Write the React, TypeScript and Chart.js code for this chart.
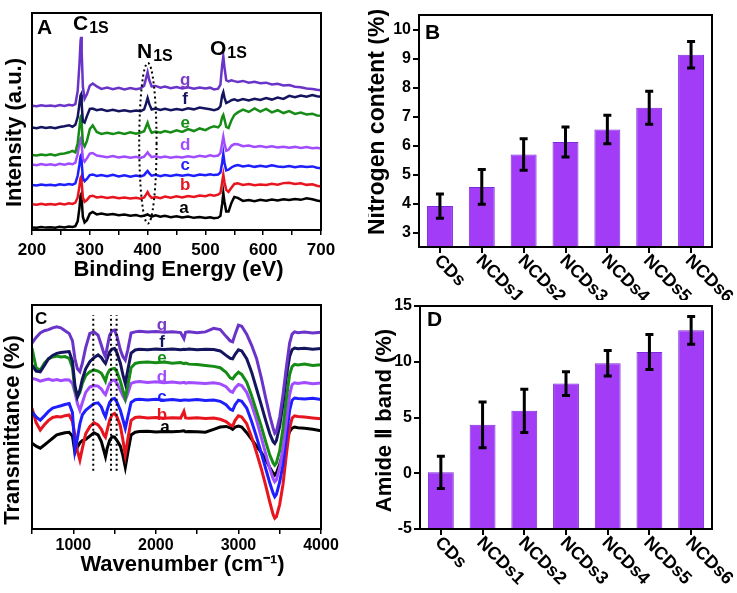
import React, { useEffect, useRef } from 'react';
import { Chart, registerables } from 'chart.js';
Chart.register(...registerables);

const FONT = '"Liberation Sans", Arial, Helvetica, sans-serif';

// ---------- Panel A : XPS survey spectra ----------
const xpsEnergy = [200,208,216,224,232,240,248,256,264,270,275,279,282,284,285,286,288,291,295,300,305,312,320,330,340,350,360,370,380,388,394,397,400,403,407,414,422,430,440,450,460,470,480,490,500,508,515,522,526,529,531,533,536,540,545,550,556,565,575,585,595,605,615,625,635,645,655,665,675,685,693,700];
const xpsA = [1.2,1.0,1.4,1.1,1.3,1.0,1.5,1.2,1.6,1.4,1.8,4.0,10.0,16.0,16.5,14.0,6.0,3.5,4.5,7.5,8.3,7.2,7.6,7.0,7.4,6.8,7.1,6.6,6.9,6.3,6.6,6.9,7.2,6.7,6.2,6.8,6.1,6.5,5.9,6.3,5.8,6.2,5.6,6.0,5.5,5.9,5.4,5.7,6.5,12.0,17.0,13.0,8.5,8.5,12.5,15.2,14.8,13.4,13.8,13.3,13.9,13.5,14.0,13.6,14.2,13.8,14.3,13.9,14.6,14.2,13.6,13.2];
const xpsB = [11.9,11.6,12.1,11.7,12.0,11.6,12.2,11.8,12.3,12.0,12.6,15.0,20.0,24.0,24.5,22.0,15.0,13.0,13.8,15.5,15.8,15.0,15.3,14.8,15.2,14.6,15.0,14.5,14.9,14.4,15.0,16.2,17.5,16.0,14.8,15.2,14.7,15.4,14.9,15.5,15.0,15.7,15.2,15.9,15.6,16.2,15.8,16.3,17.0,22.0,25.5,22.0,18.5,17.6,19.5,21.2,21.5,20.8,21.2,20.6,21.0,20.7,21.3,20.9,21.6,21.8,21.2,21.5,20.8,21.1,20.4,20.0];
const xpsC = [20.8,20.5,21.0,20.6,20.9,20.5,21.1,20.7,21.2,20.9,21.5,25.0,30.0,34.0,34.5,31.0,24.0,22.5,23.5,25.3,25.6,24.9,25.3,24.8,25.4,24.7,25.2,24.6,25.1,24.7,25.3,26.3,27.2,26.1,25.0,25.4,24.8,25.3,24.9,25.5,25.0,25.4,24.9,25.6,25.2,25.7,25.3,25.6,26.5,31.0,35.0,31.0,27.5,27.8,28.8,29.5,29.9,29.3,29.7,29.1,29.6,29.2,29.8,29.3,29.0,29.5,28.9,29.4,29.0,29.3,28.7,28.5];
const xpsD = [30.2,29.9,30.4,30.0,30.3,29.9,30.5,30.1,30.6,30.3,31.0,35.0,40.0,42.0,42.5,39.0,33.0,31.5,33.0,35.2,35.5,34.3,34.0,33.5,34.1,33.4,33.9,33.3,33.7,33.2,33.8,34.8,35.8,34.7,33.6,34.0,33.4,33.9,33.3,33.8,33.4,34.0,33.5,34.2,33.8,34.4,34.0,34.3,35.5,40.0,43.0,40.0,36.5,37.0,38.8,39.6,39.5,38.6,38.9,38.3,38.7,38.1,38.6,38.0,38.4,37.9,38.3,37.8,38.2,37.7,37.9,37.5];
const xpsE = [34.6,34.3,34.8,34.5,34.9,34.4,35.0,35.3,35.8,36.5,35.8,40.0,47.0,52.0,52.5,49.0,40.0,38.5,41.0,46.5,48.2,45.2,44.3,44.8,44.2,44.9,44.3,45.0,44.4,44.9,45.5,47.5,49.5,47.0,44.8,45.4,44.8,45.6,45.0,45.9,45.2,46.5,45.6,46.8,46.0,47.2,47.8,47.3,48.5,52.0,53.0,51.0,47.5,47.0,50.5,53.0,54.2,55.5,54.4,56.0,54.6,55.8,54.2,55.2,53.9,54.8,53.5,54.1,53.2,53.6,52.8,52.6];
const xpsF = [47.2,46.9,47.4,47.0,47.3,46.9,47.5,47.8,48.3,47.6,48.5,52.0,58.0,62.0,62.5,58.0,50.0,49.5,52.5,55.8,56.0,55.2,55.6,54.9,55.4,54.7,55.2,54.6,55.1,54.8,55.6,58.0,60.8,58.0,55.5,56.0,55.3,55.9,55.2,55.8,55.3,56.1,55.6,56.4,56.0,55.6,55.2,55.8,57.0,62.0,63.5,61.0,58.5,59.0,59.8,60.2,59.6,60.3,59.7,60.5,59.9,60.8,60.1,61.0,60.4,61.8,61.2,62.0,61.4,62.2,61.6,61.4];
const xpsG = [57.3,57.0,57.5,57.1,57.4,57.0,57.6,57.2,57.7,57.4,58.0,64.0,76.0,87.0,89.0,82.0,66.0,60.5,62.5,66.5,67.5,66.2,65.0,65.6,64.9,65.5,64.8,65.4,64.9,65.3,66.5,69.5,72.7,69.0,66.2,66.4,65.6,66.1,65.3,65.9,65.2,65.8,65.1,65.7,65.2,65.6,64.8,65.1,67.0,76.0,80.0,75.0,69.0,68.5,69.0,68.6,68.2,68.7,67.9,68.3,67.6,67.9,67.1,67.4,66.6,66.8,66.0,65.8,65.2,65.0,64.6,64.4];
const xpsTickValues = [200,250,300,350,400,450,500,550,600,650,700];

// ---------- Panel C : FTIR spectra ----------
const ftirWavenumber = [500,550,600,650,700,750,800,850,900,950,990,1020,1050,1080,1110,1150,1200,1250,1300,1340,1370,1390,1410,1440,1470,1500,1530,1570,1600,1630,1660,1700,1750,1800,1900,2000,2100,2200,2300,2340,2360,2400,2500,2600,2700,2780,2850,2900,2930,2960,3000,3040,3100,3160,3220,3280,3330,3380,3420,3440,3460,3500,3540,3580,3620,3650,3680,3720,3800,3900,4000];
const ftirA = [38.3,37.0,36.1,37.5,39.0,40.5,42.0,42.5,43.0,43.2,41.5,34.0,36.5,38.5,39.5,40.0,41.5,43.0,42.0,39.0,35.0,32.3,36.0,39.5,41.2,41.0,39.5,37.0,33.0,27.5,34.0,42.0,43.2,43.5,43.6,43.3,43.5,43.4,43.6,43.8,43.4,43.5,43.4,43.2,44.5,45.5,45.8,45.2,44.5,45.5,46.0,45.5,43.0,40.0,37.0,34.0,31.0,27.5,25.0,24.1,25.0,29.0,34.0,39.5,43.5,45.0,45.5,45.2,45.0,44.5,43.8];
const ftirB = [54.0,47.5,44.2,46.5,48.5,49.8,50.2,50.0,50.6,50.9,48.0,42.0,35.0,30.8,36.0,42.5,45.7,47.5,46.5,44.5,42.0,41.0,44.0,48.5,51.0,51.6,50.0,46.0,40.0,33.0,40.0,48.5,49.8,50.0,49.6,49.8,49.4,49.7,49.5,52.5,49.6,49.4,49.7,49.3,49.5,49.0,48.0,46.5,46.0,48.5,50.5,50.0,47.0,41.0,34.0,26.5,19.5,12.0,6.5,4.8,5.5,11.0,20.0,33.0,45.0,49.5,50.5,50.2,50.0,49.6,49.2];
const ftirC = [52.4,50.0,48.6,50.5,52.5,54.0,54.5,55.0,55.6,56.0,52.0,35.0,40.5,47.0,51.0,53.0,54.5,56.0,56.3,54.5,51.5,50.0,53.0,56.5,58.0,58.3,56.5,53.0,49.0,44.9,50.0,56.5,57.7,57.9,57.6,57.9,57.5,57.8,57.4,57.6,57.6,57.5,57.8,57.4,57.6,57.0,55.5,53.5,53.0,55.5,57.5,57.0,54.0,48.0,41.0,33.5,27.0,20.5,16.0,14.4,15.5,21.0,29.0,41.0,53.0,57.5,58.5,58.3,58.0,58.4,57.8];
const ftirD = [67.2,66.8,66.0,66.5,66.9,66.3,66.7,66.2,66.6,66.5,65.0,61.0,56.0,53.0,56.5,61.0,63.4,64.0,63.8,62.5,60.8,60.0,62.0,65.0,66.3,66.5,65.0,62.0,59.5,57.5,60.5,65.0,65.6,65.8,65.4,65.7,65.3,65.6,65.2,65.5,65.1,65.4,65.2,65.0,65.3,64.8,63.5,61.5,61.0,63.0,64.5,64.0,61.0,55.5,48.5,40.5,33.5,27.0,22.5,21.1,22.0,27.5,36.0,48.0,60.0,64.5,65.3,65.0,65.4,64.9,65.2];
const ftirE = [80.7,72.0,71.0,74.0,76.0,76.8,77.2,76.8,77.0,76.2,72.0,62.0,59.0,61.0,65.0,68.5,70.2,71.0,70.5,69.5,67.5,66.0,69.0,71.0,71.5,71.7,70.0,66.0,62.0,58.3,64.0,72.0,73.9,74.3,74.6,74.2,74.5,74.0,74.3,73.8,74.1,73.6,73.4,73.0,72.6,72.0,70.0,67.5,67.0,68.5,70.0,69.0,65.5,59.5,52.5,45.5,39.0,33.0,29.5,28.5,29.5,35.0,45.0,58.0,69.0,72.5,73.5,73.2,73.6,73.0,73.3];
const ftirF = [73.2,70.5,70.2,73.0,76.0,77.5,78.4,78.8,79.0,79.2,75.0,64.0,59.0,62.0,67.0,71.5,74.7,76.5,77.7,76.5,74.8,73.9,76.0,79.0,80.3,80.6,78.5,74.0,69.0,64.9,71.0,78.5,79.9,80.2,80.0,80.3,80.1,80.4,80.0,80.2,80.1,80.3,80.0,80.2,80.1,79.5,77.5,76.2,76.0,78.0,80.0,79.5,76.0,70.0,62.5,55.0,48.5,42.5,39.0,38.2,39.5,46.0,56.0,68.0,77.0,80.0,80.8,80.5,80.7,80.3,80.6];
const ftirG = [83.0,85.5,87.5,88.5,89.0,89.8,90.3,89.8,88.5,87.3,84.0,76.0,71.5,70.2,74.0,81.0,87.3,88.0,86.5,82.0,78.5,76.9,81.0,86.5,88.5,88.8,86.0,80.0,77.0,75.4,80.0,87.5,88.0,88.3,87.9,88.2,87.8,88.1,87.7,85.0,87.8,88.0,87.6,88.0,89.6,89.0,86.0,84.0,83.6,87.0,91.0,90.5,87.0,82.0,76.0,67.0,58.5,50.5,45.0,42.7,43.5,50.0,60.0,72.0,83.0,87.0,88.0,87.6,87.9,87.5,87.8];
const ftirTickValues = [500,1000,1500,2000,2500,3000,3500,4000];
const ftirMarkedBands = [1242, 1457, 1525];
const ftirMarkedRange = [26, 95.5];

// ---------- Panels B & D : bar charts ----------
const sampleNames = ['CDs', 'NCDs1', 'NCDs2', 'NCDs3', 'NCDs4', 'NCDs5', 'NCDs6'];
const nitrogenContent = [3.91, 4.57, 5.69, 6.12, 6.55, 7.30, 9.13];
const nitrogenError = [0.42, 0.60, 0.54, 0.52, 0.49, 0.57, 0.46];
const nitrogenTicks = [3, 4, 5, 6, 7, 8, 9, 10];
const amideBand = [0.08, 4.34, 5.60, 8.04, 9.87, 10.88, 12.82];
const amideError = [1.45, 2.05, 1.94, 1.06, 1.15, 1.57, 1.24];
const amideTicks = [-5, 0, 5, 10, 15];

// ---------- styles ----------
const curveLetters = ['a', 'b', 'c', 'd', 'e', 'f', 'g'];
const curveColors = ['#000000', '#e8141e', '#1e1eff', '#a24cff', '#168c16', '#15155f', '#6a34c8'];
const labelColors = ['#000000', '#e8141e', '#1e1eff', '#a24cff', '#168c16', '#15155f', '#7a3cc4'];
const barFill = '#a23cf6';
const barEdge = '#7b2bdc';

const xpsSeries = [xpsA, xpsB, xpsC, xpsD, xpsE, xpsF, xpsG];
const ftirSeries = [ftirA, ftirB, ftirC, ftirD, ftirE, ftirF, ftirG];

const bold = (size: number) => `bold ${size}px ${FONT}`;

// frame, panel letter and axis titles
const framePlugin = {
  id: 'frame',
  afterDraw(chart: any, _a: any, o: any) {
    const { ctx, chartArea: a } = chart;
    ctx.save();
    ctx.strokeStyle = '#000';
    ctx.lineWidth = 2;
    ctx.strokeRect(a.left, a.top, a.right - a.left, a.bottom - a.top);
    ctx.fillStyle = '#000';
    ctx.font = bold(o.letterSize);
    ctx.textAlign = 'left';
    ctx.textBaseline = 'top';
    ctx.fillText(o.letter, a.left + o.letterDx, a.top + o.letterDy);
    ctx.textAlign = 'center';
    ctx.textBaseline = 'middle';
    if (o.xTitle) {
      ctx.font = bold(o.xTitleSize);
      ctx.fillText(o.xTitle, (a.left + a.right) / 2 + o.xTitleDx, a.bottom + o.xTitleDy);
    }
    ctx.translate(a.left - o.yTitleDx, (a.top + a.bottom) / 2 + o.yTitleDy);
    ctx.rotate(-Math.PI / 2);
    ctx.font = bold(o.yTitleSize);
    ctx.fillText(o.yTitle, 0, 0);
    ctx.restore();
  },
};

// curve letters, peak names, ellipse
const notesPlugin = {
  id: 'notes',
  afterDatasetsDraw(chart: any, _a: any, o: any) {
    const { ctx } = chart;
    const xs = chart.scales.x;
    const ys = chart.scales.y;
    ctx.save();
    if (o.ellipse) {
      const [cx, cy, rx, ry] = o.ellipse;
      const px = xs.getPixelForValue(cx);
      const py = ys.getPixelForValue(cy);
      const prx = Math.abs(xs.getPixelForValue(cx + rx) - px);
      const pry = Math.abs(ys.getPixelForValue(cy + ry) - py);
      ctx.strokeStyle = '#000';
      ctx.lineWidth = 2;
      ctx.setLineDash([2, 3]);
      ctx.beginPath();
      ctx.ellipse(px, py, prx, pry, 0, 0, Math.PI * 2);
      ctx.stroke();
      ctx.setLineDash([]);
    }
    ctx.textAlign = 'center';
    ctx.textBaseline = 'middle';
    ctx.font = bold(o.labelSize);
    o.labels.forEach((l: any, i: number) => {
      ctx.fillStyle = labelColors[i];
      ctx.fillText(curveLetters[i], xs.getPixelForValue(l[0]), ys.getPixelForValue(l[1]));
    });
    if (o.peaks) {
      ctx.fillStyle = '#000';
      ctx.textAlign = 'left';
      ctx.textBaseline = 'alphabetic';
      o.peaks.forEach((p: any) => {
        const px = xs.getPixelForValue(p.x);
        const py = ys.getPixelForValue(p.y);
        ctx.font = bold(21);
        ctx.fillText(p.main, px, py);
        const w = ctx.measureText(p.main).width;
        ctx.font = bold(16);
        ctx.fillText(p.sub, px + w + 1, py + 3);
      });
    }
    ctx.restore();
  },
};

// error bars + slanted category names
const barExtrasPlugin = {
  id: 'barExtras',
  afterDatasetsDraw(chart: any, _a: any, o: any) {
    const { ctx } = chart;
    const ys = chart.scales.y;
    const vals = chart.data.datasets[0].data;
    const meta = chart.getDatasetMeta(0);
    ctx.save();
    ctx.strokeStyle = '#000';
    ctx.lineWidth = 3;
    meta.data.forEach((bar: any, i: number) => {
      const x = bar.x;
      const t = ys.getPixelForValue(vals[i] + o.errors[i]);
      const b = ys.getPixelForValue(vals[i] - o.errors[i]);
      ctx.beginPath();
      ctx.moveTo(x, t); ctx.lineTo(x, b);
      ctx.moveTo(x - 4, t); ctx.lineTo(x + 4, t);
      ctx.moveTo(x - 4, b); ctx.lineTo(x + 4, b);
      ctx.stroke();
    });
    ctx.restore();
  },
  afterDraw(chart: any, _a: any, o: any) {
    const { ctx, chartArea: a } = chart;
    const xs = chart.scales.x;
    ctx.save();
    ctx.fillStyle = '#000';
    ctx.font = bold(18);
    ctx.textAlign = 'left';
    ctx.textBaseline = 'middle';
    chart.data.labels.forEach((lab: string, i: number) => {
      const x = xs.getPixelForTick(i);
      ctx.save();
      ctx.translate(x - 3, a.bottom + o.labelDy);
      ctx.rotate(Math.PI / 4);
      ctx.fillText(lab, 0, 0);
      ctx.restore();
    });
    ctx.restore();
  },
};

function spectrumConfig(p: any) {
  const datasets: any[] = [];
  (p.vlines || []).forEach((v: number) => {
    datasets.push({
      data: [{ x: v, y: p.vRange[0] }, { x: v, y: p.vRange[1] }],
      borderColor: '#000', borderWidth: 2, borderDash: [2, 3], pointRadius: 0,
    });
  });
  for (let i = p.series.length - 1; i >= 0; i--) {
    datasets.push({
      data: p.xs.map((x: number, j: number) => ({ x, y: p.series[i][j] })),
      borderColor: curveColors[i], borderWidth: p.lineWidth, pointRadius: 0, tension: 0,
    });
  }
  return {
    type: 'line',
    data: { datasets },
    plugins: [framePlugin, notesPlugin],
    options: {
      animation: false, responsive: false, events: [],
      layout: { padding: p.padding },
      plugins: {
        legend: { display: false }, tooltip: { enabled: false },
        frame: p.frame, notes: p.notes,
      },
      scales: {
        x: {
          type: 'linear', min: p.xMin, max: p.xMax,
          afterBuildTicks: (s: any) => { s.ticks = p.tickValues.map((v: number) => ({ value: v })); },
          ticks: {
            autoSkip: false, maxRotation: 0, color: '#000', padding: p.tickPad,
            font: { family: FONT, size: p.tickSize, weight: 'bold' },
            callback: (v: number) => (v % p.labelEvery === 0 ? String(v) : ''),
          },
          grid: { drawOnChartArea: false, drawTicks: true, tickLength: 5, color: '#000', lineWidth: 1.5 },
          border: { display: false },
          afterFit: (s: any) => { s.height = p.xAxisH; },
        },
        y: {
          min: 0, max: 100,
          ticks: { display: false }, grid: { display: false }, border: { display: false },
          afterFit: (s: any) => { s.width = p.yAxisW; },
        },
      },
    },
  };
}

function barConfig(p: any) {
  return {
    type: 'bar',
    data: {
      labels: sampleNames,
      datasets: [{
        data: p.values, backgroundColor: barFill, borderColor: barEdge, borderWidth: 1,
        barPercentage: 0.62, categoryPercentage: 1, base: p.yMin,
      }],
    },
    plugins: [framePlugin, barExtrasPlugin],
    options: {
      animation: false, responsive: false, events: [],
      layout: { padding: p.padding },
      plugins: {
        legend: { display: false }, tooltip: { enabled: false },
        frame: p.frame, barExtras: { errors: p.errors, labelDy: p.labelDy },
      },
      scales: {
        x: {
          ticks: { display: false },
          grid: { offset: false, drawOnChartArea: false, drawTicks: true, tickLength: 6, color: '#000', lineWidth: 2 },
          border: { display: false },
          afterFit: (s: any) => { s.height = p.xAxisH; },
        },
        y: {
          min: p.yMin, max: p.yMax,
          afterBuildTicks: (s: any) => { s.ticks = p.ticks.map((v: number) => ({ value: v })); },
          ticks: { color: '#000', padding: 2, font: { family: FONT, size: 16, weight: 'bold' } },
          grid: { drawOnChartArea: false, drawTicks: true, tickLength: 6, color: '#000', lineWidth: 2 },
          border: { display: false },
          afterFit: (s: any) => { s.width = p.yAxisW; },
        },
      },
    },
  };
}

function Panel({ left, top, width, height, make }: any) {
  const ref = useRef<HTMLCanvasElement>(null);
  useEffect(() => {
    const chart = new Chart(ref.current as HTMLCanvasElement, make() as any);
    return () => chart.destroy();
  }, []);
  return (
    <canvas ref={ref} width={width} height={height}
      style={{ position: 'absolute', left, top, width, height }} />
  );
}

const panelA = () => spectrumConfig({
  xs: xpsEnergy, series: xpsSeries, lineWidth: 2.5,
  xMin: 200, xMax: 700, tickValues: xpsTickValues, labelEvery: 100,
  tickSize: 17, tickPad: 5, xAxisH: 60, yAxisW: 32,
  padding: { left: 0, top: 13, right: 47, bottom: 0 },
  frame: {
    letter: 'A', letterSize: 21, letterDx: 5, letterDy: 5,
    xTitle: 'Binding Energy (eV)', xTitleSize: 22, xTitleDx: 2, xTitleDy: 40,
    yTitle: 'Intensity (a.u.)', yTitleSize: 22, yTitleDx: 17, yTitleDy: 11,
  },
  notes: {
    labelSize: 17,
    labels: [[463, 10], [465, 20.5], [465, 29.8], [465, 39], [465, 49.2], [465, 60], [465, 69.1]],
    ellipse: [400.5, 40, 15, 37],
    peaks: [
      { main: 'C', sub: '1S', x: 271, y: 92.2 },
      { main: 'N', sub: '1S', x: 381.7, y: 79.3 },
      { main: 'O', sub: '1S', x: 508, y: 80.6 },
    ],
  },
});

const panelC = () => spectrumConfig({
  xs: ftirWavenumber, series: ftirSeries, lineWidth: 3,
  vlines: ftirMarkedBands, vRange: ftirMarkedRange,
  xMin: 500, xMax: 4000, tickValues: ftirTickValues, labelEvery: 1000,
  tickSize: 16, tickPad: 2, xAxisH: 64, yAxisW: 32,
  padding: { left: 0, top: 15, right: 47, bottom: 0 },
  frame: {
    letter: 'C', letterSize: 17, letterDx: 3, letterDy: 6,
    xTitle: 'Wavenumber (cm\u207B\u00B9)', xTitleSize: 22, xTitleDx: 6, xTitleDy: 36,
    yTitle: 'Transmittance (%)', yTitleSize: 22, yTitleDx: 19, yTitleDy: 13,
  },
  notes: {
    labelSize: 17,
    labels: [[2110, 45.5], [2074, 50.9], [2074, 58.9], [2074, 67.9], [2074, 76.3], [2074, 83.5], [2074, 91.1]],
  },
});

const panelB = () => barConfig({
  values: nitrogenContent, errors: nitrogenError, ticks: nitrogenTicks,
  yMin: 2.5, yMax: 10.5, xAxisH: 53, yAxisW: 51, labelDy: 11,
  padding: { left: 0, top: 15, right: 25, bottom: 0 },
  frame: {
    letter: 'B', letterSize: 21, letterDx: 6, letterDy: 8,
    yTitle: 'Nitrogen content (%)', yTitleSize: 23, yTitleDx: 41, yTitleDy: -9,
  },
});

const panelD = () => barConfig({
  values: amideBand, errors: amideError, ticks: amideTicks,
  yMin: -5, yMax: 15, xAxisH: 64, yAxisW: 52, labelDy: 11,
  padding: { left: 0, top: 16, right: 25, bottom: 0 },
  frame: {
    letter: 'D', letterSize: 21, letterDx: 7, letterDy: 4,
    yTitle: 'Amide \u2161 band (%)', yTitleSize: 22, yTitleDx: 35, yTitleDy: 3,
  },
});

export default function App() {
  return (
    <div style={{ position: 'absolute', left: 0, top: 0, width: 737, height: 593, background: '#fff' }}>
      <Panel left={0} top={0} width={368} height={290} make={panelA} />
      <Panel left={0} top={290} width={368} height={303} make={panelC} />
      <Panel left={368} top={290} width={369} height={303} make={panelD} />
      <Panel left={368} top={0} width={369} height={300} make={panelB} />
    </div>
  );
}
